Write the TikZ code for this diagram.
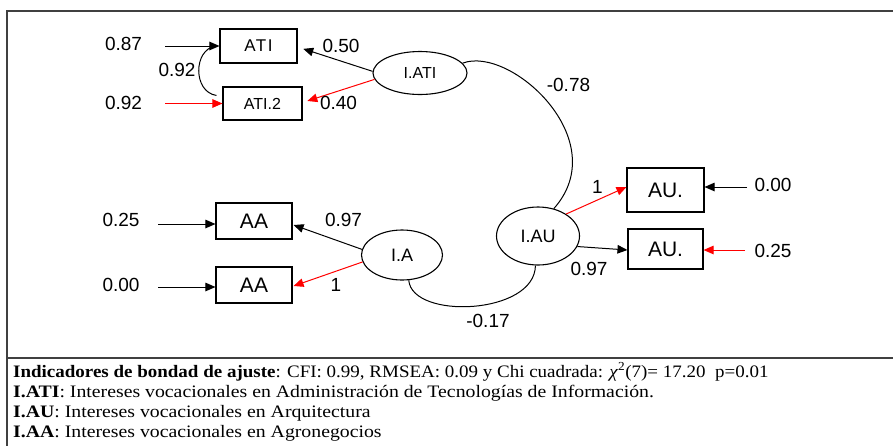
\documentclass[tikz,border=0pt]{standalone}
\usepackage{graphicx}
\usepackage{fontspec}
\setmainfont{Liberation Serif}
\newfontfamily\arial{Liberation Sans}
\usetikzlibrary{arrows.meta,shapes.geometric,calc}
\newcommand{\footstretch}[2][1.085]{\scalebox{#1}[1]{#2}}
\begin{document}
\begin{tikzpicture}[x=1pt,y=-1pt,
  obsbox/.style={draw, line width=1.1pt, inner sep=0pt, font=\arial\fontsize{21}{21}\selectfont},
  lat/.style={draw, ellipse, line width=1.1pt, inner sep=0pt},
  lbl/.style={font=\arial\fontsize{19}{19}\selectfont, inner sep=0pt},
  arr/.style={-{Triangle[length=10pt,width=8.5pt]}, line width=1pt},
  redarr/.style={arr, red},
  cov/.style={line width=1pt},
  foot/.style={anchor=base west, inner sep=0pt, font=\fontsize{17.5}{17.5}\selectfont}
]
\useasboundingbox (0,0) rectangle (893,445);
\clip (0,0) rectangle (893,445);
\fill[white] (0,0) rectangle (893,445);
% frame
\draw[line width=2pt, black!75] (7,11) rectangle (910,470);
\draw[line width=2pt, black!75] (7,358) -- (910,358);

% observed boxes
\node[obsbox, minimum width=77pt, minimum height=34pt, font=\arial\fontsize{17}{17}\selectfont\addfontfeature{LetterSpace=9}] (ATI) at (258.5,46) {ATI};
\node[obsbox, minimum width=79pt, minimum height=33pt, font=\arial\fontsize{16}{16}\selectfont] (ATI2) at (262.5,103.5) {ATI.2};
\node[obsbox, minimum width=76pt, minimum height=36pt] (AA1) at (254,221) {AA};
\node[obsbox, minimum width=76pt, minimum height=36pt] (AA2) at (254,285) {AA};
\node[obsbox, minimum width=77pt, minimum height=44pt] (AU1) at (665.5,190) {AU.};
\node[obsbox, minimum width=75pt, minimum height=40pt] (AU2) at (665.5,249) {AU.};

% latent
\node[lat, minimum width=94pt, minimum height=43pt, font=\arial\fontsize{16}{16}\selectfont] (IATI) at (420,73) {I.ATI};
\node[lat, minimum width=81pt, minimum height=50pt, font=\arial\fontsize{18}{18}\selectfont] (IA) at (402,255) {I.A};
\node[lat, minimum width=83pt, minimum height=58pt, font=\arial\fontsize{18}{18}\selectfont] (IAU) at (538,236) {I.AU};

% error terms
\coordinate (e1) at (165,46);
\coordinate (e2) at (165,103.5);
\coordinate (e3) at (158,224);
\coordinate (e4) at (158,287);
\coordinate (e5) at (747,187);
\coordinate (e6) at (745,250);
\draw[arr] (e1) -- (ATI.west |- e1);
\draw[redarr] (e2) -- (ATI2.west |- e2);
\draw[arr] (e3) -- (AA1.west |- e3);
\draw[arr] (e4) -- (AA2.west |- e4);
\draw[arr] (e5) -- (AU1.east |- e5);
\draw[redarr] (e6) -- (AU2.east |- e6);

% loadings
\draw[arr, shorten >=6pt] (IATI.178) -- ($(ATI.east)+(0,1)$);
\draw[redarr, shorten >=5pt] (IATI.188) -- ($(ATI2.east)+(0,-1)$);
\draw[arr] (IA.172) -- ($(AA1.east)+(1,4)$);
\draw[redarr] (IA.190) -- ($(AA2.east)+(1,1)$);
\draw[redarr] (IAU.38) -- ($(AU1.west)+(0,-3)$);
\draw[arr] (IAU.-15) -- ($(AU2.west)+(0,1)$);

% covariances
\draw[cov] ($(ATI2.north west)+(-6,9)$) .. controls (193,92) and (193,50) .. ($(ATI.west)+(-4,0)$);
\draw[cov] (IATI.13) .. controls (510,45) and (615,140) .. (IAU.60);
\draw[cov] (IA.-75) .. controls (412,320) and (535,315) .. (IAU.-95);

% labels
\node[lbl] (l1) at (123.5,44) {0.87};
\node[lbl] (l2) at (177,70) {0.92};
\node[lbl] (l3) at (123.5,102.5) {0.92};
\node[lbl] (l4) at (341,45.5) {0.50};
\node[lbl] (l5) at (338.5,102.5) {0.40};
\node[lbl] (l6) at (121,220) {0.25};
\node[lbl] (l7) at (121,284.5) {0.00};
\node[lbl] (l8) at (343.5,219.5) {0.97};
\node[lbl] (l9) at (336,285) {1};
\node[lbl] (l10) at (597.5,186.5) {1};
\node[lbl] (l11) at (589,268.5) {0.97};
\node[lbl] (l12) at (773,184.5) {0.00};
\node[lbl] (l13) at (773,250.5) {0.25};
\node[lbl] (l14) at (568.5,84.5) {-0.78};
\node[lbl] (l15) at (488,321) {-0.17};

% footer
\node[foot] (f1) at (13,377) {\footstretch{\textbf{Indicadores de bondad de ajuste}: CFI: 0.99, RMSEA: 0.09 y Chi cuadrada: \textit{χ}\textsuperscript{2}(7)= 17.20\ \ p=0.01}};
\node[foot] (f2) at (13,397) {\footstretch[1.13]{\textbf{I.ATI}: Intereses vocacionales en Administración de Tecnologías de Información.}};
\node[foot] (f3) at (13,417) {\footstretch[1.13]{\textbf{I.AU}: Intereses vocacionales en Arquitectura}};
\node[foot] (f4) at (13,437) {\footstretch[1.13]{\textbf{I.AA}: Intereses vocacionales en Agronegocios}};
\end{tikzpicture}
\end{document}
